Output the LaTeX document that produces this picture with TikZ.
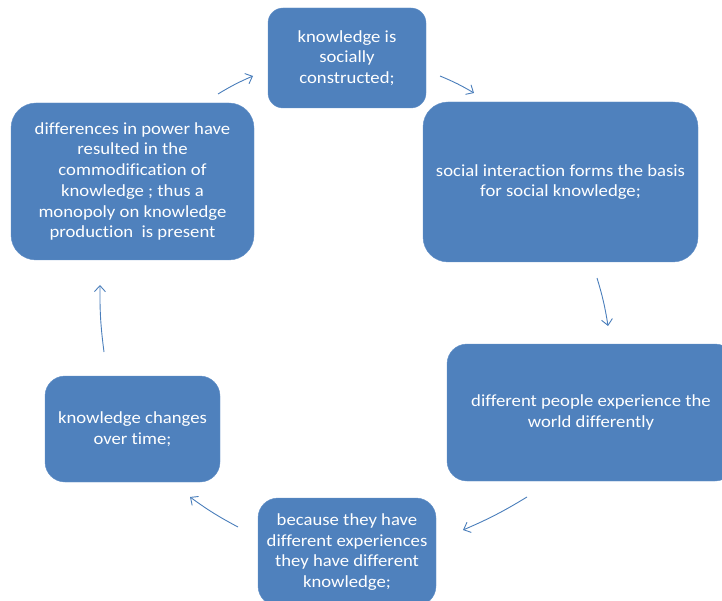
\documentclass[tikz,border=0pt]{standalone}
\usepackage{fontspec}
\setmainfont{Carlito}[FakeStretch=1.1,Ligatures={NoCommon}]
\usepackage{tikz}
\usetikzlibrary{arrows.meta}
\definecolor{box_blue}{RGB}{79,129,189}
\definecolor{edge_blue}{RGB}{100,145,200}
\definecolor{arrow_blue}{RGB}{74,126,187}

\begin{document}
\begin{tikzpicture}[x=1pt,y=-1pt,
	stage/.style={rectangle,rounded corners=20pt,draw=edge_blue,fill=box_blue,text=white,
		align=center,inner sep=0pt,font=\fontsize{17}{20.7}\selectfont},
	flow/.style={draw=arrow_blue,line width=0.9pt,-{Straight Barb[length=6pt,width=11pt]}}]
	\useasboundingbox (0,0) rectangle (722,601);
	\node[stage,rounded corners=15pt,minimum width=158pt,minimum height=100pt] (constructed) at (347,58) {knowledge is\\socially\\constructed;};
	\node[stage,rounded corners=25pt,minimum width=275pt,minimum height=160pt] (interaction) at (560.5,182) {social interaction forms the basis\\for social knowledge;};
	\node[stage,minimum width=288pt,minimum height=137pt] (experience) at (591,412.5) {different people experience the\\world differently};
	\node[stage,minimum width=178pt,minimum height=108pt] (because) at (347,552) {because they have\\different experiences\\they have different\\knowledge;};
	\node[stage,minimum width=175pt,minimum height=106pt] (changes) at (132.5,429) {knowledge changes\\over time;};
	\node[stage,rounded corners=25pt,minimum width=243pt,minimum height=157pt] (power) at (132.5,181.5) {differences in power have\\resulted in the\\commodification of\\knowledge ; thus a\\monopoly on knowledge\\production \ is present};
	
	\coordinate (s1) at (218,94);  \coordinate (e1) at (253,76);
	\coordinate (s2) at (440,76);  \coordinate (e2) at (474,93);
	\coordinate (s3) at (597,278); \coordinate (e3) at (608,326);
	\coordinate (s4) at (527,497); \coordinate (e4) at (463,530);
	\coordinate (s5) at (238,527); \coordinate (e5) at (190,497);
	\coordinate (s6) at (104,352); \coordinate (e6) at (100,285);
	\foreach \x/\y in {s1/e1,s2/e2,s3/e3,s4/e4,s5/e5,s6/e6}
		\draw[flow] (\x) to[bend left=4] (\y);
\end{tikzpicture}
\end{document}
